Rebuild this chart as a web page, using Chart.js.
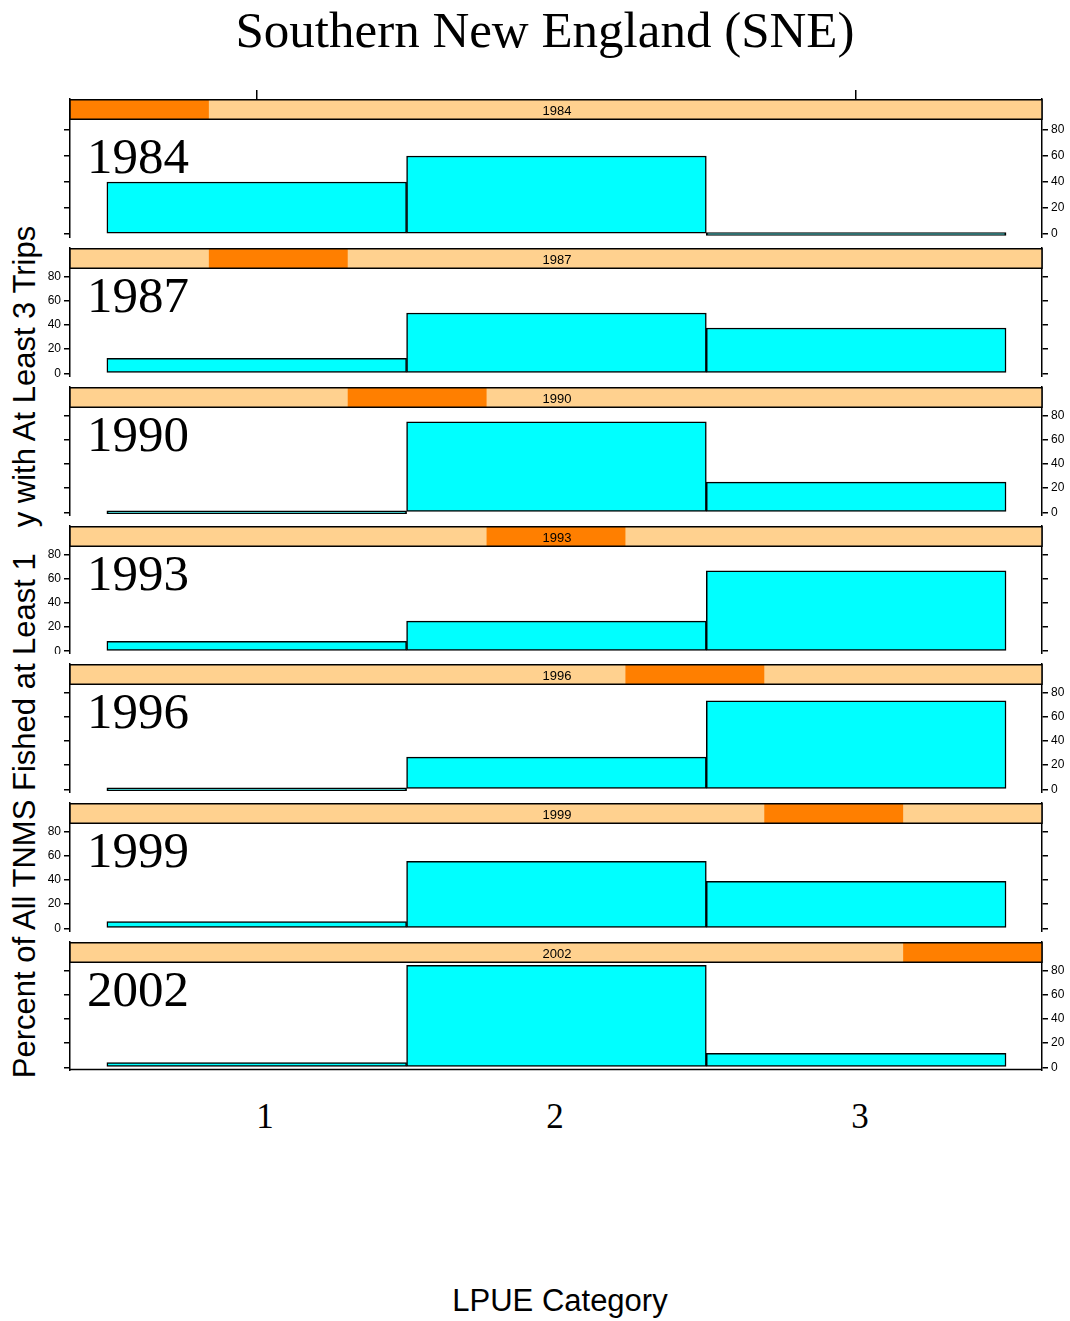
<!DOCTYPE html>
<html>
<head>
<meta charset="utf-8">
<script src="https://cdn.jsdelivr.net/npm/chart.js@4.4.1/dist/chart.umd.min.js"></script>
<style>
  body { margin: 0; background: #fff; }
  #wrap { position: relative; width: 1070px; height: 1321px; background: #fff; overflow: hidden; }
  #wrap canvas { position: absolute; left: 0; }
  .title { position: absolute; left: 0; width: 1090px; top: 0px; text-align: center;
    font-family: "Liberation Serif", "Times New Roman", serif; font-size: 51px; line-height: 60px; color: #000; }
  .ytitle { position: absolute; left: 25px; top: 652px; transform: translate(-50%, -50%) rotate(-90deg);
    white-space: pre; font-family: "Liberation Sans", Arial, sans-serif; font-size: 31px; color: #000; }
  .xtitle { position: absolute; left: 0; width: 1120px; top: 1283px; text-align: center;
    font-family: "Liberation Sans", Arial, sans-serif; font-size: 31px; color: #000; }
  .year { position: absolute; left: 87px; font-family: "Liberation Serif", "Times New Roman", serif;
    font-size: 51px; line-height: 50px; color: #000; }
  .xlab { position: absolute; top: 1097px; transform: translateX(-50%);
    font-family: "Liberation Serif", "Times New Roman", serif; font-size: 35px; color: #000; }
</style>
</head>
<body>
<div id="wrap">
  <div class="title">Southern New England (SNE)</div>
  <div class="ytitle">Percent of All TNMS Fished at Least 1   y with At Least 3 Trips</div>
  <div class="xtitle">LPUE Category</div>
</div>
<script>
// panel years (shingle levels) and LPUE bins
const years = ['1984', '1987', '1990', '1993', '1996', '1999', '2002'];
const lpueCats = [1, 2, 3];
const xTickLabels = ['1', '2', '3'];
const yTicks = [0, 20, 40, 60, 80];

// percent of boats per LPUE category, one array per year
const pct1984 = [40, 60, 0];
const pct1987 = [12.5, 50, 37.5];
const pct1990 = [0, 75, 25];
const pct1993 = [8.3, 25, 66.7];
const pct1996 = [0, 26.7, 73.3];
const pct1999 = [5.6, 55.6, 38.9];
const pct2002 = [3.8, 84.6, 11.5];
const panelValues = [pct1984, pct1987, pct1990, pct1993, pct1996, pct1999, pct2002];

const STRIP_BG = '#FFD18F';
const STRIP_ON = '#FF7F00';
const BAR_FILL = '#00FFFF';
const FONT_SANS = '"Liberation Sans", Arial, sans-serif';

const wrap = document.getElementById('wrap');
const panelTops = [99, 238, 377, 516, 654, 793, 932, 1071];
const PX_PER_UNIT = 1.3;
const Y_MAX = 80 + 31 / PX_PER_UNIT;
const TOP_AXIS = 10;

// shingle strip on top of each panel
const stripPlugin = {
  id: 'strip',
  afterDraw(chart, args, opts) {
    const { ctx, chartArea } = chart;
    const left = chartArea.left, w = chartArea.right - chartArea.left;
    const top = chartArea.top + 0.75, h = 19.5;
    const seg = w / years.length;
    ctx.save();
    ctx.fillStyle = STRIP_BG;
    ctx.fillRect(left, top, w, h);
    ctx.fillStyle = STRIP_ON;
    ctx.fillRect(left + seg * opts.index, top, seg, h);
    ctx.strokeStyle = '#000';
    ctx.lineWidth = 1.5;
    ctx.strokeRect(left, top, w, h);
    ctx.fillStyle = '#000';
    ctx.font = '13px ' + FONT_SANS;
    ctx.textAlign = 'center';
    ctx.textBaseline = 'middle';
    ctx.fillText(years[opts.index], left + w / 2 + 1, top + 12);
    if (opts.last) {
      ctx.beginPath();
      ctx.moveTo(left, chartArea.bottom - 1.5);
      ctx.lineTo(chartArea.right, chartArea.bottom - 1.5);
      ctx.stroke();
    }
    ctx.restore();
  }
};

function yAxis(pos, showLabels, yMin, width) {
  return {
    position: pos,
    min: yMin,
    max: Y_MAX,
    afterBuildTicks: s => { s.ticks = yTicks.map(v => ({ value: v })); },
    afterFit: s => {
      s.width = width;
      s.paddingTop = 0;
      s.paddingBottom = 0;
    },
    ticks: { display: showLabels, color: '#000', padding: 3, font: { family: FONT_SANS, size: 12 } },
    grid: { drawOnChartArea: false, drawTicks: true, tickLength: 6, color: '#000', lineWidth: 1.5 },
    border: { display: true, color: '#000', width: 1.5 }
  };
}

years.forEach((yr, i) => {
  const first = i === 0;
  const last = i === years.length - 1;
  const h = panelTops[i + 1] - panelTops[i];
  const yMin = Y_MAX - h / PX_PER_UNIT;
  const canvasTop = first ? panelTops[i] - TOP_AXIS : panelTops[i];
  const canvasH = first ? h + TOP_AXIS : h;

  const canvas = document.createElement('canvas');
  canvas.width = 1070;
  canvas.height = canvasH;
  canvas.style.top = canvasTop + 'px';
  canvas.style.width = '1070px';
  canvas.style.height = canvasH + 'px';
  wrap.appendChild(canvas);

  const labelsRight = i % 2 === 0;

  new Chart(canvas, {
    type: 'bar',
    data: {
      datasets: [{
        data: lpueCats.map((c, k) => ({ x: c, y: panelValues[i][k] })),
        backgroundColor: BAR_FILL,
        borderColor: '#000',
        borderWidth: 1.5,
        borderSkipped: false,
        minBarLength: 3,
        categoryPercentage: 1,
        barPercentage: 1,
        grouped: false,
        xAxisID: 'x',
        yAxisID: 'yl'
      }]
    },
    options: {
      responsive: false,
      animation: false,
      devicePixelRatio: 1,
      layout: { padding: 0 },
      plugins: {
        legend: { display: false },
        tooltip: { enabled: false },
        strip: { index: i, last: last }
      },
      scales: {
        x: {
          type: 'linear',
          position: 'top',
          display: first,
          min: 0.377,
          max: 3.62,
          offset: false,
          afterBuildTicks: s => { s.ticks = [1, 3].map(v => ({ value: v })); },
          afterFit: s => {
            s.height = TOP_AXIS;
            s.paddingLeft = 0;
            s.paddingRight = 0;
          },
          ticks: { display: false },
          grid: { offset: false, drawOnChartArea: false, drawTicks: true, tickLength: 9, color: '#000', lineWidth: 1.5 },
          border: { display: false }
        },
        yl: yAxis('left', !labelsRight, yMin, 70),
        yr: yAxis('right', labelsRight, yMin, 28)
      }
    },
    plugins: [stripPlugin]
  });

  const lab = document.createElement('div');
  lab.className = 'year';
  lab.textContent = yr;
  lab.style.top = (panelTops[i] + 32) + 'px';
  wrap.appendChild(lab);
});

// bottom category labels
const xLabPos = [265, 555, 860];
xTickLabels.forEach((t, k) => {
  const d = document.createElement('div');
  d.className = 'xlab';
  d.textContent = t;
  d.style.left = xLabPos[k] + 'px';
  wrap.appendChild(d);
});
</script>
</body>
</html>
